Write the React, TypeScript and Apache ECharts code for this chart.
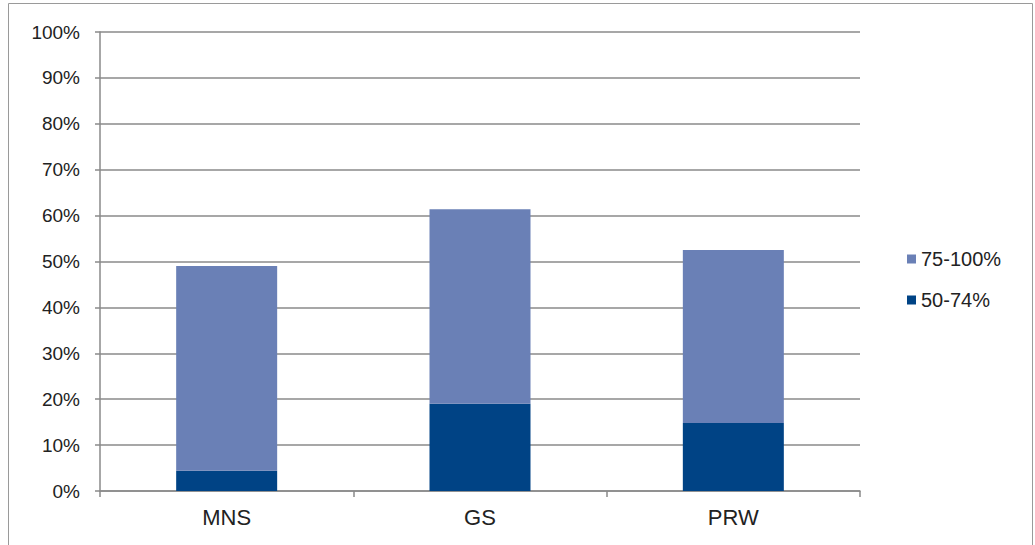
import React, { useEffect, useRef } from "react";
import * as echarts from "echarts";

const categories = ["MNS", "GS", "PRW"];
const seriesLow = [4.4, 19.0, 14.8]; // 50-74%
const seriesHigh = [44.6, 42.4, 37.7]; // 75-100%
const yTicks = [0, 10, 20, 30, 40, 50, 60, 70, 80, 90, 100];

export default function App() {
  const ref = useRef<HTMLDivElement>(null);
  useEffect(() => {
    if (!ref.current) return;
    const chart = echarts.init(ref.current, undefined, { renderer: "svg" });
    const font = "'Liberation Sans', Arial, Helvetica, sans-serif";
    chart.setOption({
      animation: false,
      backgroundColor: "#ffffff",
      textStyle: { fontFamily: font },
      graphic: [
        {
          type: "rect",
          shape: { x: 8.5, y: 3.5, width: 1024, height: 560 },
          style: { fill: "none", stroke: "#9a9a9a", lineWidth: 1 },
          silent: true,
        },
      ],
      grid: { left: 100, right: 175, top: 32, bottom: 54 },
      legend: {
        orient: "vertical",
        left: 902,
        top: 244,
        itemWidth: 9,
        itemHeight: 9,
        itemGap: 21,
        data: ["75-100%", "50-74%"],
        textStyle: { fontSize: 20, color: "#222", fontFamily: font },
        icon: "rect",
      },
      xAxis: {
        type: "category",
        data: categories,
        axisLine: { lineStyle: { color: "#8a8a8a", width: 1.5 } },
        axisTick: { show: true, length: 6, lineStyle: { color: "#8a8a8a", width: 1.5 } },
        axisLabel: { fontSize: 22, color: "#222", margin: 15, fontFamily: font },
      },
      yAxis: {
        type: "value",
        min: 0,
        max: 100,
        interval: 10,
        axisLine: { show: true, lineStyle: { color: "#8a8a8a", width: 1.5 } },
        axisTick: { show: true, length: 5, lineStyle: { color: "#8a8a8a", width: 1.5 } },
        axisLabel: {
          fontSize: 19,
          color: "#222",
          margin: 20,
          fontFamily: font,
          formatter: (v: number) => (yTicks.includes(v) ? v + "%" : ""),
        },
        splitLine: { lineStyle: { color: "#8a8a8a", width: 1.5 } },
      },
      series: [
        {
          name: "50-74%",
          type: "bar",
          stack: "total",
          data: seriesLow,
          barWidth: 101,
          itemStyle: { color: "#004385" },
        },
        {
          name: "75-100%",
          type: "bar",
          stack: "total",
          data: seriesHigh,
          barWidth: 101,
          itemStyle: { color: "#6a80b6" },
        },
      ],
    });
    return () => chart.dispose();
  }, []);
  return (
    <div
      ref={ref}
      style={{ position: "absolute", left: 0, top: 0, width: 1035, height: 545 }}
    />
  );
}
